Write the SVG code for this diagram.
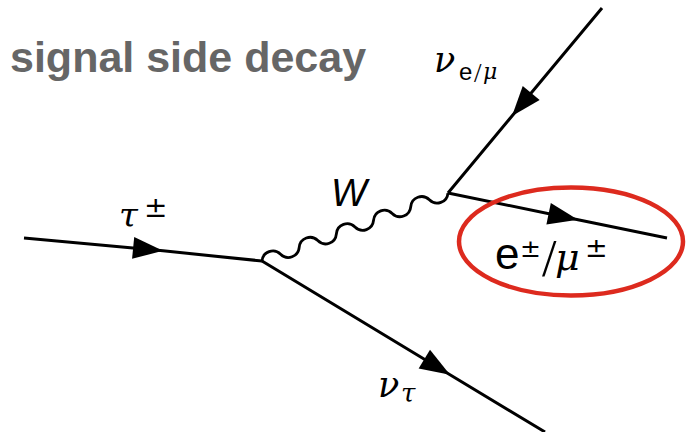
<svg xmlns="http://www.w3.org/2000/svg" width="687" height="432" viewBox="0 0 687 432">
<style>
.line{fill:none;stroke:#000;stroke-width:3;stroke-linecap:butt}
.wave{fill:none;stroke:#000;stroke-width:2.8}
.title{font-family:"Liberation Sans",Arial,sans-serif;font-weight:bold;font-size:43px;fill:#666}
.gr{font-family:"DejaVu Serif","Liberation Serif",serif;font-style:italic;fill:#000}
.sl{font-family:"Liberation Serif","DejaVu Serif",serif;fill:#000}
.pm{font-family:"DejaVu Sans","Liberation Sans",sans-serif;fill:#000}
.sans{font-family:"Liberation Sans",Arial,sans-serif;fill:#000}
</style>
<defs>
<marker id="arr" markerUnits="userSpaceOnUse" markerWidth="32" markerHeight="22" refX="30" refY="11" orient="auto" overflow="visible">
<path d="M0,0 L30,11 L0,22 Z" fill="#000"/>
</marker>
</defs>
<rect width="687" height="432" fill="#fff"/>
<text class="title" x="10" y="72">signal side decay</text>
<g id="connectors">
<path class="line" d="M24,238 L163,250.8 L262,261" marker-mid="url(#arr)"/>
<path class="line" d="M262,261 L450,374.7 L545,432" marker-mid="url(#arr)"/>
<path class="line" d="M602,8 L512,116 L448,193" marker-mid="url(#arr)"/>
<path class="line" d="M448,193 L578,219.7 L667,238" marker-mid="url(#arr)"/>
<path class="wave" transform="translate(262,261) rotate(-20.08)" d="M0,0 c4,-8.5 15.8,-8.5 19.8,0 c4,8.5 15.8,8.5 19.8,0 c4,-8.5 15.8,-8.5 19.8,0 c4,8.5 15.8,8.5 19.8,0 c4,-8.5 15.8,-8.5 19.8,0 c4,8.5 15.8,8.5 19.8,0 c4,-8.5 15.8,-8.5 19.8,0 c4,8.5 15.8,8.5 19.8,0 c4,-8.5 15.8,-8.5 19.8,0 c4,8.5 15.8,8.5 19.8,0"/>
</g>
<g id="tau">
<text x="119" y="227" class="gr" font-size="34">τ</text>
<text x="144" y="217" class="pm" font-size="28">±</text>
</g>
<g id="W">
<text x="331" y="206" class="sans" font-style="italic" font-size="38">W</text>
</g>
<g id="nu_e">
<text x="434" y="72" class="gr" font-size="35">ν</text>
<text x="459" y="80" class="sans" font-size="24">e</text>
<text x="474" y="81.5" class="sl" font-size="27">/</text>
<text x="483" y="79" class="gr" font-size="22">μ</text>
</g>
<g id="lepton">
<ellipse cx="571" cy="241.5" rx="112" ry="54" fill="none" stroke="#dd2a1e" stroke-width="4.5"/>
<text x="495" y="269" class="sans" font-size="44">e</text>
<text x="520" y="257" class="pm" font-size="25">±</text>
<text x="542" y="276" class="sl" font-size="52">/</text>
<text x="555" y="270" class="gr" font-size="38">μ</text>
<text x="585" y="257" class="pm" font-size="27">±</text>
</g>
<g id="nu_tau">
<text x="378" y="397" class="gr" font-size="35">ν</text>
<text x="401" y="402" class="gr" font-size="26">τ</text>
</g>
</svg>
